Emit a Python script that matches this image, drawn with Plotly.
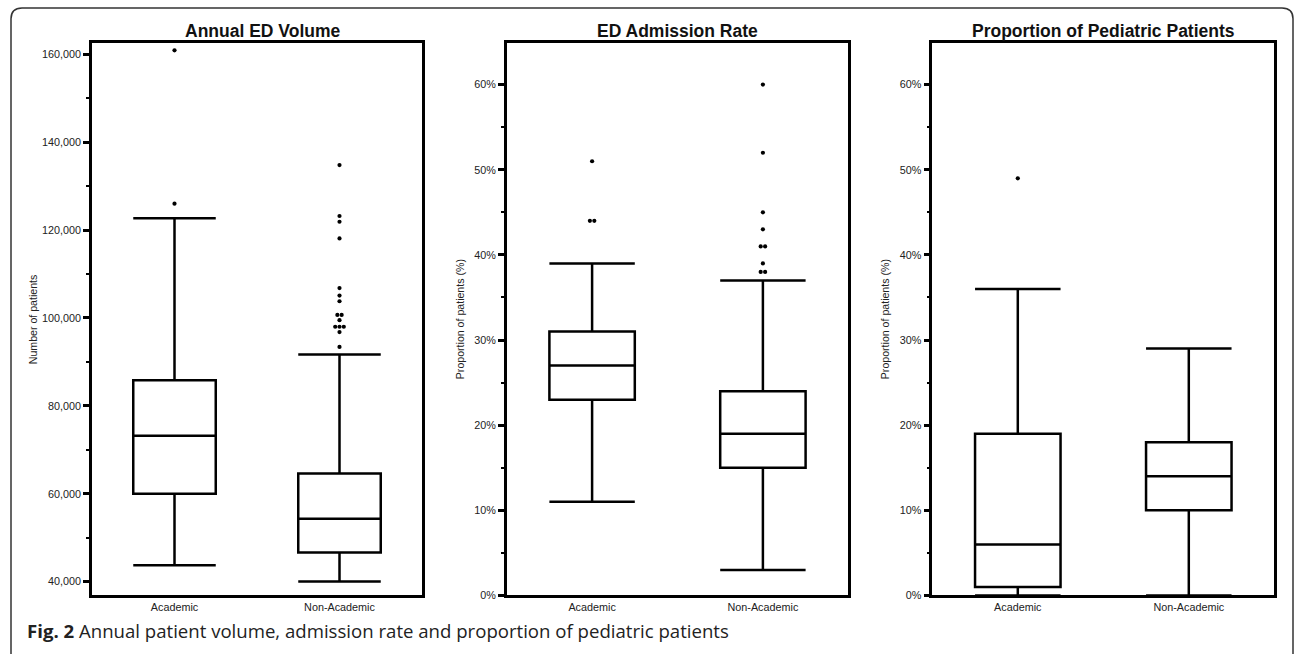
import plotly.graph_objects as go

W, H = 1295, 655

CATEGORIES = ["Academic", "Non-Academic"]
PANEL_TITLES = ["Annual ED Volume", "ED Admission Rate", "Proportion of Pediatric Patients"]
Y_TITLES = ["Number of patients", "Proportion of patients (%)", "Proportion of patients (%)"]
CAPTION_BOLD = "Fig. 2"
CAPTION_TEXT = "Annual patient volume, admission rate and proportion of pediatric patients"

# Panel 1: annual ED volume (patients)
VOL_LOWER = [43700, 40000]
VOL_Q1 = [60000, 46600]
VOL_MEDIAN = [73200, 54300]
VOL_Q3 = [85800, 64600]
VOL_UPPER = [122700, 91700]
VOL_OUT_ACADEMIC = [160900, 126000]
VOL_OUT_NONACADEMIC = [134800, 123200, 121900, 118100, 106800, 105100, 103800,
                       100700, 100700, 99500, 98000, 98000, 98000, 96800, 93400]

# Panel 2: ED admission rate (%)
ADM_LOWER = [11, 3]
ADM_Q1 = [23, 15]
ADM_MEDIAN = [27, 19]
ADM_Q3 = [31, 24]
ADM_UPPER = [39, 37]
ADM_OUT_ACADEMIC = [51, 44, 44]
ADM_OUT_NONACADEMIC = [60, 52, 45, 43, 41, 41, 39, 38, 38]

# Panel 3: proportion of pediatric patients (%)
PED_LOWER = [0, 0]
PED_Q1 = [1, 10]
PED_MEDIAN = [6, 14]
PED_Q3 = [19, 18]
PED_UPPER = [36, 29]
PED_OUT_ACADEMIC = [49]
PED_OUT_NONACADEMIC = []

VOL_TICKS = [40000, 60000, 80000, 100000, 120000, 140000, 160000]
PCT_TICKS = [0, 10, 20, 30, 40, 50, 60]
PCT_TICK_LABELS = ["0%", "10%", "20%", "30%", "40%", "50%", "60%"]


def px_x(p):
    return p / W


def px_y(p):
    return 1 - p / H


def spread(values, center, step=0.026):
    """Place tied outliers side by side around the category position."""
    xs, ys = [], []
    counts = {}
    for v in values:
        counts[v] = counts.get(v, 0) + 1
    for v, n in counts.items():
        for k in range(n):
            xs.append(center + (k - (n - 1) / 2) * step)
            ys.append(v)
    return xs, ys


panels = [
    dict(lower=VOL_LOWER, q1=VOL_Q1, med=VOL_MEDIAN, q3=VOL_Q3, upper=VOL_UPPER,
         outs=[VOL_OUT_ACADEMIC, VOL_OUT_NONACADEMIC]),
    dict(lower=ADM_LOWER, q1=ADM_Q1, med=ADM_MEDIAN, q3=ADM_Q3, upper=ADM_UPPER,
         outs=[ADM_OUT_ACADEMIC, ADM_OUT_NONACADEMIC]),
    dict(lower=PED_LOWER, q1=PED_Q1, med=PED_MEDIAN, q3=PED_Q3, upper=PED_UPPER,
         outs=[PED_OUT_ACADEMIC, PED_OUT_NONACADEMIC]),
]

# plot-area pixel geometry
X_DOMAINS_PX = [(92, 422), (506.7, 848.3), (932.3, 1274.3)]
Y_TOP_PX, Y_BOT_PX = 43.3, 601
TITLE_X_PX = [262.5, 677.5, 1103.3]
YTITLE_X_PX = [33, 460, 885]

fig = go.Figure()
positions = list(range(len(CATEGORIES)))

for i, p in enumerate(panels):
    sfx = "" if i == 0 else str(i + 1)
    fig.add_trace(go.Box(
        x=positions, q1=p["q1"], median=p["med"], q3=p["q3"],
        lowerfence=p["lower"], upperfence=p["upper"],
        width=0.5, whiskerwidth=1, boxpoints=False,
        fillcolor="white", line=dict(color="black", width=2.5),
        xaxis="x" + sfx, yaxis="y" + sfx, showlegend=False, hoverinfo="y",
    ))
    for ci, outs in enumerate(p["outs"]):
        if not outs:
            continue
        xs, ys = spread(outs, positions[ci])
        fig.add_trace(go.Scatter(
            x=xs, y=ys, mode="markers",
            marker=dict(color="black", size=4.2),
            xaxis="x" + sfx, yaxis="y" + sfx, showlegend=False,
        ))

axis_line = dict(showline=True, linecolor="black", linewidth=2.5, mirror=True,
                 showgrid=False, zeroline=False)
tickfont = dict(family="Liberation Sans, Arial, sans-serif", size=10.8, color="#222")

layout = dict(
    width=W, height=H, margin=dict(l=0, r=0, t=0, b=0),
    paper_bgcolor="white", plot_bgcolor="white",
    font=dict(family="Liberation Sans, Arial, sans-serif", color="#222"),
    showlegend=False,
)

y_ranges = [[36840, 162600], [0, 64.9], [0, 64.9]]
for i in range(3):
    sfx = "" if i == 0 else str(i + 1)
    x0, x1 = X_DOMAINS_PX[i]
    layout["xaxis" + sfx] = dict(
        domain=[px_x(x0), px_x(x1)], range=[-0.5, 1.5], anchor="y" + sfx,
        tickmode="array", tickvals=positions, ticktext=CATEGORIES,
        ticks="", tickfont=tickfont, fixedrange=True, **axis_line,
    )
    ydict = dict(
        domain=[px_y(Y_BOT_PX), px_y(Y_TOP_PX)], range=y_ranges[i], anchor="x" + sfx,
        ticks="outside", ticklen=6, tickwidth=2.5, tickcolor="black",
        tickfont=tickfont, fixedrange=True, **axis_line,
    )
    if i == 0:
        ydict.update(tickmode="array", tickvals=VOL_TICKS, tickformat=",d",
                     minor=dict(ticks="outside", ticklen=3, tickwidth=2,
                                tickcolor="black", dtick=10000, tick0=0, showgrid=False))
    else:
        ydict.update(tickmode="array", tickvals=PCT_TICKS, ticktext=PCT_TICK_LABELS,
                     minor=dict(ticks="outside", ticklen=3, tickwidth=2,
                                tickcolor="black", dtick=5, tick0=0, showgrid=False))
    layout["yaxis" + sfx] = ydict

annotations = []
for i in range(3):
    annotations.append(dict(
        x=px_x(TITLE_X_PX[i]), y=px_y(31), xref="paper", yref="paper",
        text="<b>" + PANEL_TITLES[i] + "</b>", showarrow=False,
        xanchor="center", yanchor="middle",
        font=dict(family="Liberation Sans, Arial, sans-serif", size=17.5, color="#111"),
    ))
    annotations.append(dict(
        x=px_x(YTITLE_X_PX[i]), y=px_y((Y_TOP_PX + Y_BOT_PX) / 2), xref="paper", yref="paper",
        text=Y_TITLES[i], showarrow=False, textangle=-90,
        xanchor="center", yanchor="middle",
        font=dict(family="Liberation Sans, Arial, sans-serif", size=10.6, color="#222"),
    ))
annotations.append(dict(
    x=px_x(25), y=px_y(636), xref="paper", yref="paper",
    text="<b>" + CAPTION_BOLD + "</b> " + CAPTION_TEXT, showarrow=False,
    xanchor="left", yanchor="middle",
    font=dict(family="Open Sans, sans-serif", size=18.6, color="#222"),
))
layout["annotations"] = annotations

# rounded frame around the figure (open at the bottom edge)
r = 11
L, T, R, B = 11, 8, 1293, 660
path = (f"M {px_x(L)},{px_y(B)} L {px_x(L)},{px_y(T + r)} "
        f"Q {px_x(L)},{px_y(T)} {px_x(L + r)},{px_y(T)} "
        f"L {px_x(R - r)},{px_y(T)} Q {px_x(R)},{px_y(T)} {px_x(R)},{px_y(T + r)} "
        f"L {px_x(R)},{px_y(B)}")
layout["shapes"] = [dict(type="path", path=path, xref="paper", yref="paper",
                         line=dict(color="#333", width=1.5), layer="above")]

fig.update_layout(**layout)
fig.write_html("out.html", config={"displayModeBar": False},
               post_script="document.body.style.margin='0';document.body.style.overflow='hidden';")
